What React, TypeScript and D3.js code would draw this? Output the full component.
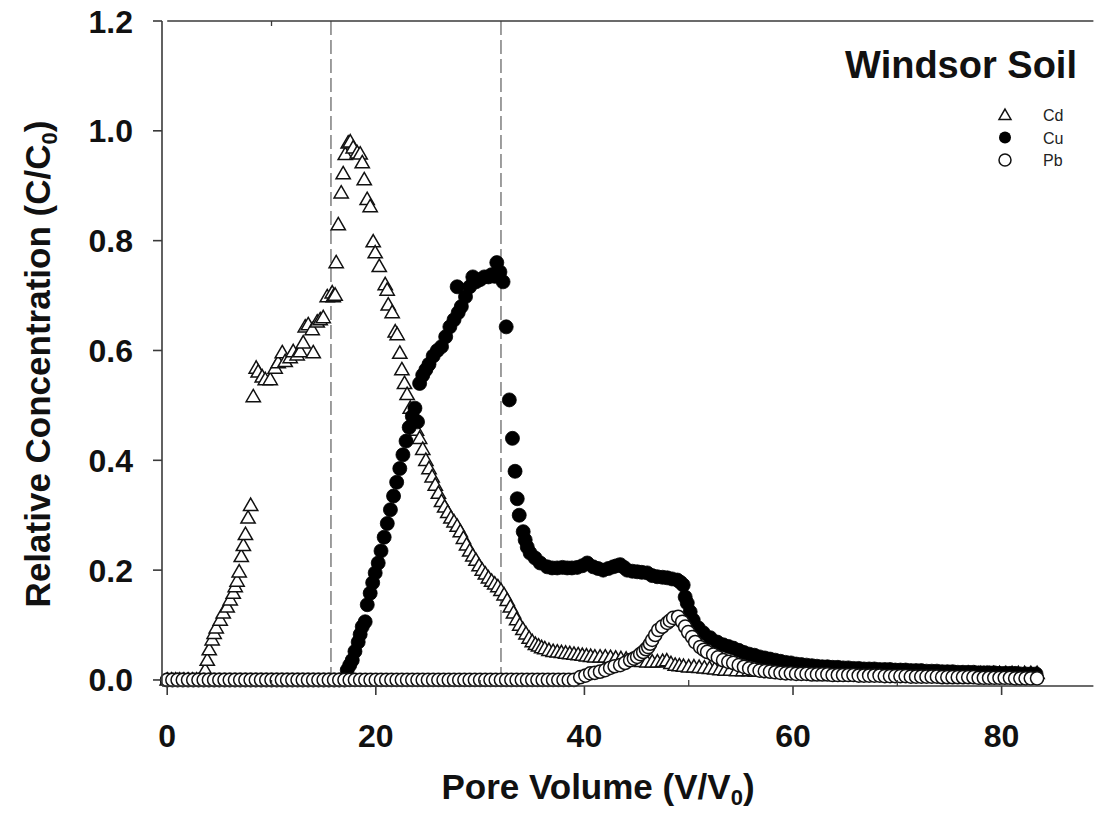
import React from "react";
import * as d3 from "d3";

// ---- data: [pore volume V/V0, relative concentration C/C0] ----
const cdData: [number, number][] = [
  [0, 0], [0.4, 0], [0.8, 0], [1.2, 0], [1.6, 0], [2.0, 0], [2.4, 0], [2.8, 0], [3.2, 0],
  [3.64, 0.018], [3.84, 0.036], [4.03, 0.055], [4.31, 0.073], [4.5, 0.085], [4.7, 0.095], [5.08, 0.109], [5.37, 0.122],
  [5.75, 0.133], [6.04, 0.146], [6.33, 0.158], [6.52, 0.17], [6.7, 0.18], [6.9, 0.197], [7.1, 0.225], [7.3, 0.245],
  [7.5, 0.265], [7.75, 0.295], [8.0, 0.318],
  [8.25, 0.516], [8.53, 0.568], [8.72, 0.561], [9.11, 0.552], [9.4, 0.547], [9.88, 0.547], [10.35, 0.568], [10.64, 0.578],
  [11.03, 0.596], [11.31, 0.58], [11.79, 0.587], [12.08, 0.598], [12.46, 0.592], [12.75, 0.598], [13.04, 0.614],
  [13.23, 0.643], [13.52, 0.647], [13.9, 0.638], [14.0, 0.596], [14.38, 0.652], [14.67, 0.656], [14.96, 0.66],
  [15.34, 0.698], [15.82, 0.705], [15.92, 0.698], [16.1, 0.701], [16.2, 0.76], [16.4, 0.829], [16.68, 0.887],
  [16.87, 0.922], [17.07, 0.957], [17.35, 0.978], [17.55, 0.98], [17.83, 0.969], [18.22, 0.96], [18.5, 0.958],
  [18.7, 0.942], [18.89, 0.911], [19.17, 0.875], [19.46, 0.862], [19.75, 0.798], [19.94, 0.778], [20.33, 0.753],
  [20.9, 0.72], [21.09, 0.71], [21.19, 0.683], [21.57, 0.669], [21.86, 0.634], [22.05, 0.629],
  [22.3, 0.595], [22.5, 0.565], [22.75, 0.54], [23.0, 0.52], [23.3, 0.495], [23.6, 0.475], [23.9, 0.455], [24.2, 0.44],
  [24.5, 0.42], [24.8, 0.4], [25.1, 0.385], [25.4, 0.37], [25.7, 0.355], [26.0, 0.34], [26.3, 0.325], [26.6, 0.315],
  [26.9, 0.305], [27.2, 0.295], [27.5, 0.288], [27.8, 0.28], [28.1, 0.27], [28.4, 0.258], [28.7, 0.246], [29.0, 0.235],
  [29.3, 0.226], [29.6, 0.218], [29.9, 0.208], [30.2, 0.2], [30.5, 0.193], [30.8, 0.186], [31.1, 0.18], [31.4, 0.175],
  [31.7, 0.17], [32.0, 0.163], [32.3, 0.155], [32.6, 0.145], [32.9, 0.133], [33.2, 0.122], [33.5, 0.11], [33.8, 0.1],
  [34.1, 0.092], [34.4, 0.084], [34.7, 0.076], [35.0, 0.07], [35.3, 0.065], [35.6, 0.062], [35.9, 0.059], [36.2, 0.057],
  [36.6, 0.054], [37.0, 0.052], [37.4, 0.051], [37.8, 0.05], [38.2, 0.049], [38.6, 0.048], [39.0, 0.047], [39.4, 0.046],
  [39.8, 0.045], [40.2, 0.044], [40.6, 0.043], [41.0, 0.042], [41.5, 0.042], [42.0, 0.042], [42.5, 0.041], [43.0, 0.04],
  [43.5, 0.039], [44.0, 0.038], [44.5, 0.036], [45.0, 0.035], [45.5, 0.034], [46.0, 0.033], [46.5, 0.033], [47.0, 0.033],
  [47.5, 0.034], [47.9, 0.035], [48.3, 0.03], [48.7, 0.027], [49.1, 0.026], [49.5, 0.025], [50.0, 0.024], [50.5, 0.024],
  [51.0, 0.023], [51.5, 0.022], [52.0, 0.021], [52.5, 0.02], [53.0, 0.019], [53.5, 0.018], [54.0, 0.018], [54.6, 0.017],
  [55.2, 0.017], [55.8, 0.017], [56.4, 0.016], [57.0, 0.016], [57.6, 0.016], [58.2, 0.016], [58.8, 0.015], [59.4, 0.015],
  [60.0, 0.015], [60.6, 0.015], [61.2, 0.015], [61.8, 0.014], [62.4, 0.014], [63.0, 0.014], [63.6, 0.014], [64.2, 0.014],
  [64.8, 0.014], [65.4, 0.013], [66.0, 0.013], [66.6, 0.013], [67.2, 0.013], [67.8, 0.013], [68.4, 0.013], [69.0, 0.013],
  [69.6, 0.013], [70.2, 0.013], [70.8, 0.012], [71.4, 0.012], [72.0, 0.012], [72.6, 0.012], [73.2, 0.012], [73.8, 0.012],
  [74.4, 0.012], [75.0, 0.012], [75.6, 0.012], [76.2, 0.012], [76.8, 0.012], [77.4, 0.012], [78.0, 0.012], [78.6, 0.012],
  [79.2, 0.012], [79.8, 0.012], [80.4, 0.012], [81.0, 0.012], [81.6, 0.012], [82.2, 0.012], [82.8, 0.012], [83.4, 0.012],
];

const cuData: [number, number][] = [
  [0, 0], [0.5, 0], [1.0, 0], [1.5, 0], [2.0, 0], [2.5, 0], [3.0, 0], [3.5, 0], [4.0, 0], [4.5, 0], [5.0, 0], [5.5, 0],
  [6.0, 0], [6.5, 0], [7.0, 0], [7.5, 0], [8.0, 0], [8.5, 0], [9.0, 0], [9.5, 0], [10.0, 0], [10.5, 0], [11.0, 0],
  [11.5, 0], [12.0, 0], [12.5, 0], [13.0, 0], [13.5, 0], [14.0, 0], [14.5, 0], [15.0, 0], [15.5, 0], [16.0, 0],
  [16.5, 0], [17.0, 0],
  [17.26, 0.018], [17.5, 0.027], [17.74, 0.036], [18.0, 0.052], [18.31, 0.069], [18.5, 0.083], [18.7, 0.097],
  [18.98, 0.106], [19.18, 0.137], [19.46, 0.158], [19.7, 0.177], [19.94, 0.195], [20.23, 0.213], [20.5, 0.235],
  [20.8, 0.26], [21.1, 0.285], [21.4, 0.31], [21.7, 0.335], [22.0, 0.36], [22.3, 0.385], [22.6, 0.41], [22.9, 0.435],
  [23.2, 0.46], [23.5, 0.48], [23.75, 0.495], [24.0, 0.47], [24.2, 0.54], [24.5, 0.555], [24.8, 0.565], [25.1, 0.575],
  [25.5, 0.59], [25.9, 0.6], [26.3, 0.607], [26.7, 0.625], [27.1, 0.643], [27.5, 0.656], [27.8, 0.716], [27.9, 0.669],
  [28.2, 0.68], [28.6, 0.698], [29.0, 0.716], [29.3, 0.734], [29.6, 0.725], [30.0, 0.729], [30.4, 0.734], [30.8, 0.734],
  [31.1, 0.738], [31.4, 0.735], [31.6, 0.76], [31.9, 0.743], [32.2, 0.725], [32.5, 0.643], [32.8, 0.51], [33.1, 0.44],
  [33.35, 0.38], [33.56, 0.33], [33.75, 0.3], [34.13, 0.27], [34.32, 0.255], [34.52, 0.242], [34.8, 0.231],
  [35.28, 0.222], [35.76, 0.213], [36.43, 0.206], [36.9, 0.204], [37.39, 0.204], [37.9, 0.205], [38.35, 0.204],
  [38.8, 0.204], [39.31, 0.205], [39.8, 0.208], [40.27, 0.213], [40.84, 0.206], [41.3, 0.203], [41.8, 0.2],
  [42.3, 0.203], [42.76, 0.206], [43.1, 0.208], [43.43, 0.21], [43.8, 0.205], [44.1, 0.2], [44.6, 0.198],
  [45.06, 0.197], [45.5, 0.196], [46.02, 0.195], [46.5, 0.19], [46.98, 0.188], [47.5, 0.187], [47.94, 0.186],
  [48.4, 0.184], [48.9, 0.182], [49.2, 0.178], [49.47, 0.173], [49.66, 0.151], [49.86, 0.14], [50.14, 0.124],
  [50.43, 0.109], [50.91, 0.095], [51.39, 0.086], [52.06, 0.077], [52.73, 0.069], [53.31, 0.064], [53.8, 0.061],
  [54.27, 0.058], [54.8, 0.054], [55.3, 0.05], [55.8, 0.047], [56.3, 0.045], [56.8, 0.042], [57.3, 0.04], [57.8, 0.038],
  [58.3, 0.036], [58.8, 0.034], [59.3, 0.032], [59.8, 0.031], [60.3, 0.029], [60.8, 0.028], [61.3, 0.027], [61.8, 0.026],
  [62.3, 0.025], [62.8, 0.024], [63.3, 0.024], [63.8, 0.023], [64.3, 0.023], [64.8, 0.022], [65.3, 0.022], [65.8, 0.021],
  [66.3, 0.021], [66.8, 0.02], [67.3, 0.02], [67.8, 0.02], [68.3, 0.019], [68.8, 0.019], [69.3, 0.019], [69.8, 0.018],
  [70.3, 0.018], [70.8, 0.018], [71.3, 0.017], [71.8, 0.017], [72.3, 0.017], [72.8, 0.016], [73.3, 0.016], [73.8, 0.016],
  [74.3, 0.015], [74.8, 0.015], [75.3, 0.015], [75.8, 0.014], [76.3, 0.014], [76.8, 0.014], [77.3, 0.014], [77.8, 0.013],
  [78.3, 0.013], [78.8, 0.013], [79.3, 0.013], [79.8, 0.012], [80.3, 0.012], [80.8, 0.012], [81.3, 0.012], [81.8, 0.011],
  [82.3, 0.011], [82.8, 0.011], [83.3, 0.011],
];

const pbData: [number, number][] = [
  [0, 0], [0.5, 0], [1.0, 0], [1.5, 0], [2.0, 0], [2.5, 0], [3.0, 0], [3.5, 0], [4.0, 0], [4.5, 0], [5.0, 0], [5.5, 0],
  [6.0, 0], [6.5, 0], [7.0, 0], [7.5, 0], [8.0, 0], [8.5, 0], [9.0, 0], [9.5, 0], [10.0, 0], [10.5, 0], [11.0, 0],
  [11.5, 0], [12.0, 0], [12.5, 0], [13.0, 0], [13.5, 0], [14.0, 0], [14.5, 0], [15.0, 0], [15.5, 0], [16.0, 0],
  [16.5, 0], [17.0, 0], [17.5, 0], [18.0, 0], [18.5, 0], [19.0, 0], [19.5, 0], [20.0, 0], [20.5, 0], [21.0, 0],
  [21.5, 0], [22.0, 0], [22.5, 0], [23.0, 0], [23.5, 0], [24.0, 0], [24.5, 0], [25.0, 0], [25.5, 0], [26.0, 0],
  [26.5, 0], [27.0, 0], [27.5, 0], [28.0, 0], [28.5, 0], [29.0, 0], [29.5, 0], [30.0, 0], [30.5, 0], [31.0, 0],
  [31.5, 0], [32.0, 0], [32.5, 0], [33.0, 0], [33.5, 0], [34.0, 0], [34.5, 0], [35.0, 0], [35.5, 0], [36.0, 0],
  [36.5, 0], [37.0, 0], [37.5, 0], [38.0, 0], [38.5, 0], [39.0, 0],
  [39.6, 0.005], [40.1, 0.008], [40.56, 0.012], [41.0, 0.013], [41.5, 0.015], [42.0, 0.018], [42.47, 0.022],
  [42.9, 0.025], [43.43, 0.027], [43.9, 0.031], [44.39, 0.036], [44.75, 0.039], [45.06, 0.042], [45.35, 0.047],
  [45.64, 0.051], [45.9, 0.056], [46.12, 0.06], [46.3, 0.066], [46.5, 0.073], [46.79, 0.082], [47.08, 0.091],
  [47.46, 0.097], [47.94, 0.104], [48.2, 0.108], [48.51, 0.113], [48.99, 0.115], [49.38, 0.106], [49.66, 0.097],
  [49.95, 0.087], [50.33, 0.078], [50.62, 0.069], [51.1, 0.06], [51.45, 0.055], [51.77, 0.051], [52.35, 0.046],
  [52.8, 0.041], [53.3, 0.036], [53.8, 0.033], [54.27, 0.031], [54.8, 0.027], [55.3, 0.024], [55.8, 0.021],
  [56.3, 0.019], [56.8, 0.017], [57.3, 0.016], [57.8, 0.015], [58.3, 0.014], [58.8, 0.013], [59.3, 0.012],
  [59.8, 0.012], [60.3, 0.011], [60.8, 0.011], [61.3, 0.011], [61.8, 0.01], [62.3, 0.01], [62.8, 0.01], [63.3, 0.01],
  [63.8, 0.009], [64.3, 0.009], [64.8, 0.009], [65.3, 0.009], [65.8, 0.009], [66.3, 0.008], [66.8, 0.008],
  [67.3, 0.008], [67.8, 0.008], [68.3, 0.008], [68.8, 0.007], [69.3, 0.007], [69.8, 0.007], [70.3, 0.007],
  [70.8, 0.007], [71.3, 0.006], [71.8, 0.006], [72.3, 0.006], [72.8, 0.006], [73.3, 0.006], [73.8, 0.006],
  [74.3, 0.005], [74.8, 0.005], [75.3, 0.005], [75.8, 0.005], [76.3, 0.005], [76.8, 0.005], [77.3, 0.005],
  [77.8, 0.004], [78.3, 0.004], [78.8, 0.004], [79.3, 0.004], [79.8, 0.004], [80.3, 0.004], [80.8, 0.004],
  [81.3, 0.003], [81.8, 0.003], [82.3, 0.003], [82.8, 0.003], [83.4, 0.003],
];

const xMajorTicks = [0, 20, 40, 60, 80];
const xMinorTicks = [10, 30, 50, 70];
const yTicks = [0, 0.2, 0.4, 0.6, 0.8, 1.0, 1.2];
const dashedLines = [15.7, 32.0];
const legendItems = ["Cd", "Cu", "Pb"];
const title = "Windsor Soil";

const FONT = "Arial, 'Liberation Sans', Helvetica, sans-serif";

export default function App() {
  const W = 1096;
  const H = 813;
  const x = d3.scaleLinear().domain([-0.5, 88.8]).range([162, 1093.4]);
  const y = d3.scaleLinear().domain([-0.011, 1.2]).range([686, 21]);
  const yFmt = d3.format(".1f");
  const tri = d3.symbol(d3.symbolTriangle, 88)() as string;
  const triLegend = d3.symbol(d3.symbolTriangle, 62)() as string;
  const axisColor = "#3a3a3a";

  const x0 = x.range()[0];
  const x1 = x.range()[1];
  const yBottom = y.range()[0];
  const yTop = y.range()[1];

  return (
    <svg
      width={W}
      height={H}
      style={{ position: "absolute", left: 0, top: 0, background: "#fff" }}
      fontFamily={FONT}
    >
      <rect x={0} y={0} width={W} height={H} fill="#fff" />
      {/* dashed reference lines */}
      {dashedLines.map((d) => (
        <line
          key={"d" + d}
          x1={x(d)}
          x2={x(d)}
          y1={yTop}
          y2={yBottom}
          stroke="#6a6a6a"
          strokeWidth={1.3}
          strokeDasharray="14,5"
        />
      ))}

      {/* Cd triangles */}
      <g>
        {cdData.map(([v, c], i) => (
          <path
            key={"cd" + i}
            d={tri}
            transform={`translate(${x(v)},${y(c) + 1})`}
            fill="#fff"
            stroke="#111"
            strokeWidth={1.5}
          />
        ))}
      </g>
      {/* Cu filled circles */}
      <g>
        {cuData.map(([v, c], i) => (
          <circle key={"cu" + i} cx={x(v)} cy={y(c)} r={7} fill="#000" stroke="#000" strokeWidth={0.8} />
        ))}
      </g>
      {/* Pb hollow circles */}
      <g>
        {pbData.map(([v, c], i) => (
          <circle key={"pb" + i} cx={x(v)} cy={y(c)} r={6.6} fill="#fff" stroke="#111" strokeWidth={1.5} />
        ))}
      </g>

      {/* axes */}
      <line x1={x0} x2={x0} y1={yTop} y2={yBottom} stroke={axisColor} strokeWidth={1.6} />
      <line x1={x0} x2={x1} y1={yBottom} y2={yBottom} stroke={axisColor} strokeWidth={1.6} />
      <line x1={x(0)} x2={x1} y1={yTop} y2={yTop} stroke={axisColor} strokeWidth={1.4} />
      <line x1={x(10)} x2={x(10)} y1={yTop} y2={yTop + 5} stroke={axisColor} strokeWidth={1.3} />

      {yTicks.map((t) => (
        <g key={"yt" + t}>
          <line x1={x0 - 9} x2={x0} y1={y(t)} y2={y(t)} stroke={axisColor} strokeWidth={1.6} />
          <text
            x={133}
            y={y(t) + 11.5}
            textAnchor="end"
            fontSize={32}
            fontWeight="bold"
            fill="#111"
          >
            {yFmt(t)}
          </text>
        </g>
      ))}
      {xMajorTicks.map((t) => (
        <g key={"xt" + t}>
          <line x1={x(t)} x2={x(t)} y1={yBottom} y2={yBottom + 9} stroke={axisColor} strokeWidth={1.6} />
          <text x={x(t)} y={747} textAnchor="middle" fontSize={32} fontWeight="bold" fill="#111">
            {t}
          </text>
        </g>
      ))}
      {xMinorTicks.map((t) => (
        <line key={"xm" + t} x1={x(t)} x2={x(t)} y1={yBottom} y2={yBottom - 6} stroke={axisColor} strokeWidth={1.3} />
      ))}

      {/* axis titles */}
      <text x={598} y={799} textAnchor="middle" fontSize={35} fontWeight="bold" fill="#111">
        Pore Volume (V/V<tspan dy={6} fontSize={22}>0</tspan>
        <tspan dy={-6}>)</tspan>
      </text>
      <text
        transform="translate(50,364) rotate(-90)"
        textAnchor="middle"
        fontSize={35}
        fontWeight="bold"
        fill="#111"
      >
        Relative Concentration (C/C<tspan dy={7} fontSize={22}>0</tspan>
        <tspan dy={-7}>)</tspan>
      </text>

      {/* title */}
      <text x={1077} y={78} textAnchor="end" fontSize={38} fontWeight="bold" fill="#111">
        {title}
      </text>

      {/* legend */}
      {legendItems.map((name, i) => {
        const ly = 115 + i * 22.5;
        return (
          <g key={name}>
            {i === 0 && (
              <path d={triLegend} transform={`translate(1005,${ly + 1})`} fill="#fff" stroke="#111" strokeWidth={1.5} />
            )}
            {i === 1 && <circle cx={1005} cy={ly} r={6} fill="#000" />}
            {i === 2 && <circle cx={1005} cy={ly} r={6} fill="#fff" stroke="#111" strokeWidth={1.5} />}
            <text x={1043} y={ly + 6} fontSize={16} fill="#222">
              {name}
            </text>
          </g>
        );
      })}
    </svg>
  );
}
